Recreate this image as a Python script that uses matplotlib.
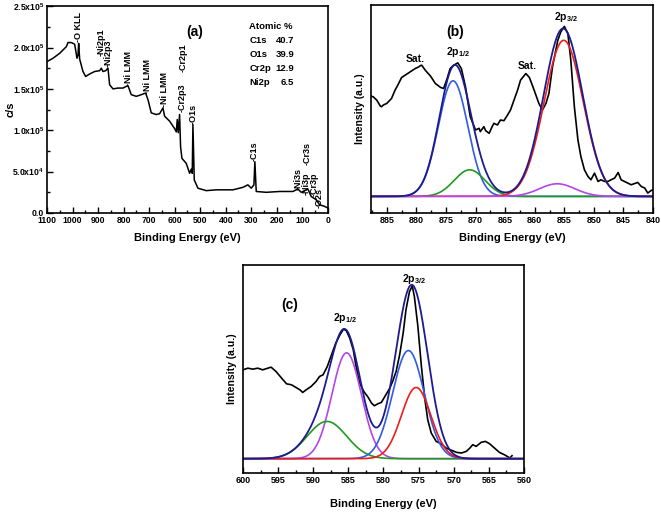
import numpy as np
import matplotlib
matplotlib.use('Agg')
from matplotlib import pyplot as plt
from matplotlib.ticker import MultipleLocator

plt.rcParams['font.family'] = ['Liberation Sans', 'DejaVu Sans']
plt.rcParams['font.weight'] = 'bold'
plt.rcParams['axes.labelweight'] = 'bold'
plt.rcParams['mathtext.fontset'] = 'custom'
plt.rcParams['mathtext.rm'] = 'Liberation Sans:bold'
plt.rcParams['mathtext.bf'] = 'Liberation Sans:bold'
plt.rcParams['mathtext.it'] = 'Liberation Sans:bold'

# ---- (a) survey spectrum ----
survey_e = [1100, 1076.5, 1050.4, 1024.3, 1017.8, 1004.7, 991.7, 987.8, 982.6, 978.6, 976.0,
            972.1, 959.1, 948.6, 933.0, 913.4, 893.8, 887.3, 880.8, 870.3, 861.2, 854.7,
            841.6, 822.1, 802.5, 782.9, 769.9, 750.3, 730.7, 713.8, 704.6, 691.6, 672.0,
            659.0, 645.9, 639.4, 619.8, 600.2, 593.7, 589.8, 585.9, 580.7, 576.8, 571.5,
            554.6, 541.5, 535.0, 531.1, 528.5, 523.2, 508.9, 476.3, 437.1, 371.9, 332.7,
            313.2, 300.1, 289.6, 285.8, 280.5, 241.4, 189.2, 137.0, 117.4, 104.4, 78.3,
            65.3, 45.7, 32.6, 13.0, 0]
survey_cps = [1.83e5, 1.87e5, 1.93e5, 2.01e5, 2.06e5, 2.06e5, 2.04e5, 1.97e5, 1.87e5, 1.91e5, 2.05e5,
              1.86e5, 1.71e5, 1.65e5, 1.68e5, 1.71e5, 1.72e5, 1.75e5, 1.71e5, 1.72e5, 1.75e5, 1.55e5,
              1.50e5, 1.51e5, 1.51e5, 1.54e5, 1.43e5, 1.41e5, 1.43e5, 1.45e5, 1.37e5, 1.21e5, 1.19e5,
              1.20e5, 1.27e5, 1.17e5, 1.11e5, 1.02e5, 0.98e5, 1.13e5, 0.97e5, 1.19e5, 0.80e5, 0.66e5,
              0.60e5, 0.48e5, 0.53e5, 0.48e5, 1.07e5, 0.40e5, 0.30e5, 0.27e5, 0.28e5, 0.28e5, 0.31e5,
              0.34e5, 0.30e5, 0.34e5, 0.62e5, 0.26e5, 0.25e5, 0.26e5, 0.26e5, 0.29e5, 0.25e5, 0.29e5,
              0.20e5, 0.16e5, 0.10e5, 0.08e5, 0.06e5]

peak_labels = ['-O KLL', '-Ni2p1', '-Ni2p3', '-Ni LMM', '-Ni LMM', '-Ni LMM', '-Cr2p3', '-Cr2p1',
               '-O1s', '-C1s', '-Ni3s', '-Ni3p', '-Cr3s', '-Cr3p', '-O2s']
peak_label_e = [976, 887, 859, 779, 707, 639, 572, 568, 528, 287, 117, 85, 80, 53, 33]
peak_label_y = [2.07e5, 1.90e5, 1.77e5, 1.53e5, 1.44e5, 1.28e5, 1.22e5, 1.70e5,
                1.07e5, 0.63e5, 0.28e5, 0.22e5, 0.58e5, 0.20e5, 0.06e5]

atomic_names = ['C1s', 'O1s', 'Cr2p', 'Ni2p']
atomic_vals = ['40.7', '39.9', '12.9', '6.5']

# ---- (b) Ni 2p ----
ni_e = [887.7, 887.3, 886.7, 886.1, 885.9, 885.6, 885.0, 884.2, 883.6, 883.0, 882.5, 881.9,
        881.3, 880.8, 880.2, 879.6, 879.3, 879.1, 878.5, 877.6, 876.8, 875.9, 875.4, 874.8,
        874.3, 873.7, 873.0, 872.4, 871.7, 870.9, 870.0, 869.4, 869.2, 868.6, 868.3, 867.7,
        867.2, 866.9, 866.3, 865.8, 865.2, 864.6, 864.1, 863.5, 862.9, 862.4, 861.5, 860.9,
        860.1, 859.3, 858.7, 858.1, 857.6, 857.0, 856.1, 855.6, 855.0, 854.4, 853.9, 853.3,
        852.7, 852.2, 851.6, 851.0, 850.5, 849.9, 849.3, 848.8, 848.2, 847.6, 847.1, 846.5,
        845.9, 845.4, 844.5, 843.7, 842.6, 842.0, 841.4, 840.9, 840.3, 840.0]
ni_int = [3.02, 3.00, 2.90, 2.72, 2.70, 2.75, 2.80, 2.95, 3.20, 3.40, 3.58, 3.65,
          3.72, 3.78, 3.85, 3.90, 3.94, 3.95, 3.80, 3.62, 3.40, 3.28, 3.25, 3.55,
          3.85, 3.95, 4.02, 3.85, 3.30, 2.40, 2.00, 2.05, 1.95, 2.10, 1.98, 1.90,
          2.10, 2.20, 2.15, 2.30, 2.28, 2.45, 2.60, 2.90, 3.20, 3.50, 3.70, 3.58,
          3.20, 2.80, 2.60, 2.80, 3.10, 3.90, 4.70, 4.95, 5.12, 4.90, 4.10, 2.70,
          1.70, 1.20, 0.80, 0.60, 0.50, 0.70, 0.45, 0.50, 0.45, 0.45, 0.50, 0.55,
          0.72, 0.50, 0.42, 0.35, 0.42, 0.30, 0.25, 0.10, 0.18, 0.20]
ni_centers = [873.8, 871.0, 855.1, 856.2]
ni_heights = [3.48, 0.80, 4.70, 0.38]
ni_sigmas = [2.5, 2.6, 3.3, 3.0]
ni_colors = ['#2f5be8', '#1f9a1f', '#ee1c1c', '#b446e6']

# ---- (c) Cr 2p ----
cr_e = [600.0, 599.3, 598.6, 597.9, 597.2, 596.0, 595.3, 594.5, 593.8, 593.1, 592.7, 591.9,
        591.5, 591.0, 590.3, 589.6, 589.1, 588.6, 588.0, 587.4, 586.8, 586.2, 585.7, 585.3,
        584.8, 584.3, 583.9, 583.4, 582.8, 582.2, 581.7, 581.3, 580.8, 580.3, 579.8, 579.1,
        578.7, 578.2, 577.7, 577.2, 576.8, 576.3, 575.9, 575.6, 575.1, 574.6, 574.1, 573.7,
        573.2, 572.5, 571.8, 571.1, 570.3, 569.6, 568.9, 568.2, 567.7, 567.3, 566.8, 566.1,
        565.5, 564.9, 564.2, 563.5, 562.8, 562.0, 561.7]
cr_int = [2.67, 2.72, 2.69, 2.72, 2.67, 2.75, 2.62, 2.42, 2.25, 2.22, 2.17, 2.07,
          1.99, 2.07, 2.17, 2.32, 2.47, 2.52, 2.77, 3.12, 3.47, 3.72, 3.89, 3.85,
          3.62, 3.27, 2.77, 2.27, 2.02, 1.85, 1.67, 1.59, 1.65, 1.69, 1.87, 2.12,
          2.32, 2.62, 3.12, 3.77, 4.47, 5.02, 5.19, 4.87, 3.97, 2.77, 1.77, 1.17,
          0.77, 0.52, 0.45, 0.32, 0.25, 0.19, 0.17, 0.22, 0.32, 0.42, 0.37, 0.49,
          0.52, 0.45, 0.32, 0.19, 0.12, 0.02, 0.09]
cr_centers = [585.25, 588.05, 576.45, 575.35]
cr_heights = [3.18, 1.12, 3.25, 2.14]
cr_sigmas = [2.1, 2.8, 2.25, 2.1]
cr_colors = ['#b446e6', '#1f9a1f', '#2f5be8', '#ee1c1c']

navy = '#1c1c8f'


def gauss(x, c, h, s):
    return h * np.exp(-(x - c) ** 2 / (2 * s ** 2))


def style_axis(ax, fs):
    ax.tick_params(axis='x', which='both', direction='in', top=False, labelsize=fs, pad=2)
    ax.tick_params(axis='x', which='major', length=4, width=1)
    ax.tick_params(axis='x', which='minor', length=2, width=1)
    for sp in ax.spines.values():
        sp.set_linewidth(1.2)


def fit_panel(ax, e, y, centers, heights, sigmas, colors, xlim, xpad):
    ax.plot(e, y, color='black', lw=1.2)
    xs = np.linspace(xlim[0], xlim[1], 600)
    total = np.zeros_like(xs)
    for c, h, s, col in zip(centers, heights, sigmas, colors):
        g = gauss(xs, c, h, s)
        total += g
        ax.plot(xs, g, color=col, lw=1.2)
    ax.plot(xs, total, color=navy, lw=1.3)
    ax.set_xlim(xlim)
    ax.set_yticks([])
    ax.set_ylabel('Intensity (a.u.)', fontsize=7.5, labelpad=4)
    ax.set_xlabel('Binding Energy (eV)', fontsize=8, labelpad=xpad)
    style_axis(ax, 6.5)


fig = plt.figure(figsize=(6.61, 5.12), dpi=100)

# (a)
ax1 = fig.add_axes([0.0711, 0.584, 0.4249, 0.404])
ax1.plot(survey_e, survey_cps, color='black', lw=1.1)
ax1.set_xlim(1100, 0)
ax1.set_ylim(0, 2.5e5)
ax1.xaxis.set_major_locator(MultipleLocator(100))
ax1.xaxis.set_minor_locator(MultipleLocator(50))
ax1.set_yticks([0, 5e4, 1e5, 1.5e5, 2e5, 2.5e5])
ax1.set_yticklabels(['0.0', r'5.0x10$^{4}$', r'1.0x10$^{5}$', r'1.5x10$^{5}$',
                     r'2.0x10$^{5}$', r'2.5x10$^{5}$'])
ax1.yaxis.set_minor_locator(MultipleLocator(2.5e4))
style_axis(ax1, 6.2)
ax1.tick_params(axis='y', which='both', direction='in', right=False, labelsize=6.2, pad=2)
ax1.tick_params(axis='y', which='major', length=4, width=1)
ax1.tick_params(axis='y', which='minor', length=2, width=1)
ax1.set_ylabel('c/s', fontsize=8)
ax1.yaxis.set_label_coords(-0.11, 0.5)
ax1.set_xlabel('Binding Energy (eV)', fontsize=8, labelpad=6)
for lab, e, v in zip(peak_labels, peak_label_e, peak_label_y):
    ax1.text(e, v, lab, rotation=90, ha='center', va='bottom', fontsize=6.5)
ax1.text(522, 2.19e5, '(a)', fontsize=10, ha='center', va='center')
ax1.text(307, 2.26e5, 'Atomic %', fontsize=6.8, ha='left', va='center')
for i, (n, v) in enumerate(zip(atomic_names, atomic_vals)):
    yy = 2.085e5 - i * 1.68e4
    ax1.text(307, yy, n, fontsize=6.8, ha='left', va='center')
    ax1.text(132, yy, v, fontsize=6.8, ha='right', va='center')

# (b)
ax2 = fig.add_axes([0.561, 0.584, 0.427, 0.406])
fit_panel(ax2, ni_e, ni_int, ni_centers, ni_heights, ni_sigmas, ni_colors, (887.7, 840), 6)
ax2.set_ylim(-0.5, 5.76)
ax2.xaxis.set_major_locator(MultipleLocator(5))
ax2.xaxis.set_minor_locator(MultipleLocator(2.5))
ax2.text(873.5, 4.95, '(b)', fontsize=10, ha='center', va='center')
ax2.text(880.2, 4.15, 'Sat.', fontsize=7.5, ha='center', va='center')
ax2.text(861.2, 3.92, 'Sat.', fontsize=7.5, ha='center', va='center')
ax2.text(873.0, 4.35, r'2p$_{1/2}$', fontsize=7.5, ha='center', va='center')
ax2.text(854.7, 5.40, r'2p$_{3/2}$', fontsize=7.5, ha='center', va='center')

# (c)
ax3 = fig.add_axes([0.3676, 0.0762, 0.4251, 0.4062])
fit_panel(ax3, cr_e, cr_int, cr_centers, cr_heights, cr_sigmas, cr_colors, (600, 560), 10)
ax3.set_ylim(-0.43, 5.82)
ax3.xaxis.set_major_locator(MultipleLocator(5))
ax3.xaxis.set_minor_locator(MultipleLocator(2.5))
ax3.text(593.4, 4.62, '(c)', fontsize=10, ha='center', va='center')
ax3.text(585.5, 4.22, r'2p$_{1/2}$', fontsize=7.5, ha='center', va='center')
ax3.text(575.6, 5.40, r'2p$_{3/2}$', fontsize=7.5, ha='center', va='center')

fig.savefig('out.png', dpi=100)
